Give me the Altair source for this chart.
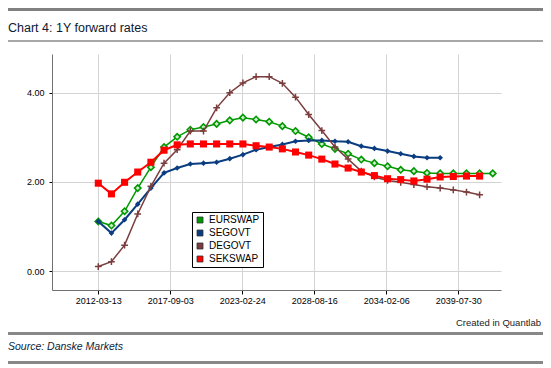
import altair as alt
import pandas as pd

# ---------------- data ----------------
series_names = ["EURSWAP", "SEGOVT", "DEGOVT", "SEKSWAP"]
series_colors = ["#009900", "#0a3d80", "#7b3d3d", "#ff0000"]
start_year = 2012

eurswap = [1.11, 1.02, 1.34, 1.86, 2.33, 2.78, 3.01, 3.17, 3.23, 3.30, 3.38, 3.44,
           3.40, 3.35, 3.25, 3.14, 3.00, 2.85, 2.74, 2.63, 2.50, 2.42, 2.35, 2.27,
           2.24, 2.20, 2.19, 2.19, 2.19, 2.19, 2.19]
segovt = [1.11, 0.85, 1.15, 1.50, 1.86, 2.20, 2.31, 2.40, 2.42, 2.44, 2.52, 2.61,
          2.72, 2.78, 2.84, 2.91, 2.93, 2.93, 2.91, 2.90, 2.80, 2.75, 2.69, 2.63,
          2.57, 2.54, 2.54]
degovt = [0.10, 0.21, 0.58, 1.28, 1.90, 2.42, 2.72, 3.14, 3.14, 3.66, 4.00, 4.22,
          4.36, 4.36, 4.21, 3.90, 3.51, 3.15, 2.78, 2.51, 2.24, 2.11, 2.03, 1.99,
          1.94, 1.89, 1.86, 1.82, 1.77, 1.71]
sekswap = [1.97, 1.73, 1.99, 2.22, 2.44, 2.71, 2.83, 2.85, 2.85, 2.85, 2.85, 2.85,
           2.81, 2.78, 2.74, 2.67, 2.60, 2.51, 2.40, 2.31, 2.22, 2.14, 2.07, 2.05,
           2.02, 2.06, 2.11, 2.12, 2.13, 2.13]

x_tick_labels = ["2012-03-13", "2017-09-03", "2023-02-24", "2028-08-16",
                 "2034-02-06", "2039-07-30"]
x_domain = ["2008-09-04", "2042-10-28"]
y_tick_values = [0, 2, 4]
y_domain = [-0.426, 4.868]

title_text = "Chart 4: 1Y forward rates"
source_text = "Source: Danske Markets"
credit_text = "Created in Quantlab"

rows = []
for name, vals in zip(series_names, [eurswap, segovt, degovt, sekswap]):
    for i, v in enumerate(vals):
        rows.append({"series": name, "date": f"{start_year + i}-03-13", "value": v})
df = pd.DataFrame(rows)


def dt(s):
    y, m, d = (int(p) for p in s.split("-"))
    return alt.DateTime(year=y, month=m, date=d, utc=True)


FONT = "Liberation Sans"
W, H = 449, 236
color_of = dict(zip(series_names, series_colors))

color_scale = alt.Scale(domain=series_names, range=series_colors)
x_enc = alt.X(
    "date:T",
    scale=alt.Scale(type="utc", domain=[dt(s) for s in x_domain]),
    axis=alt.Axis(values=[dt(s) for s in x_tick_labels], format="%Y-%m-%d",
                  title=None, labelFont=FONT, labelFontSize=9, labelColor="#000",
                  domainColor="#707070", tickColor="#000", tickSize=4,
                  gridColor="#d4d4d4", labelPadding=2, labelFlush=False),
)
y_enc = alt.Y(
    "value:Q",
    scale=alt.Scale(domain=y_domain, nice=False, zero=False),
    axis=alt.Axis(values=y_tick_values, format=".2f", title=None, labelFont=FONT,
                  labelFontSize=9, labelColor="#000", domainColor="#707070",
                  tickColor="#000", tickSize=3, gridColor="#d4d4d4",
                  labelPadding=5),
)

line_widths = {"EURSWAP": 1.5, "SEGOVT": 2, "DEGOVT": 1.5, "SEKSWAP": 2}

layers = []
for name in series_names:
    c = color_of[name]
    base = alt.Chart(df).transform_filter(alt.datum.series == name)
    layers.append(
        base.mark_line(strokeWidth=line_widths[name], color=c).encode(x=x_enc, y=y_enc)
    )
    if name == "EURSWAP":
        pts = base.mark_point(shape="diamond", filled=False, fill="#cfeccf",
                              stroke=c, size=40, strokeWidth=1.6, opacity=1)
        layers.append(pts.encode(x=x_enc, y=y_enc))
    elif name == "SEGOVT":
        pts = base.mark_point(shape="diamond", filled=True, color=c, size=32,
                              opacity=1)
        layers.append(pts.encode(x=x_enc, y=y_enc))
    elif name == "DEGOVT":
        pts = base.mark_point(shape="M-1,0L1,0M0,-1L0,1", filled=False, stroke=c,
                              size=45, strokeWidth=1.5, opacity=1)
        layers.append(pts.encode(x=x_enc, y=y_enc))
    else:
        pts = base.mark_point(shape="square", filled=True, size=50, opacity=1)
        leg = alt.Legend(title=None, orient="none", legendX=140, legendY=158,
                         symbolType="square", symbolSize=36,
                         symbolStrokeColor="#333", symbolStrokeWidth=0.8,
                         labelFont=FONT, labelFontSize=10, labelColor="#000",
                         strokeColor="#000", fillColor="#ffffff", padding=3,
                         rowPadding=3, labelOffset=4)
        layers.append(pts.encode(
            x=x_enc, y=y_enc,
            color=alt.Color("series:N", scale=color_scale, legend=leg)))

one = pd.DataFrame({"t": [0]})


def hrule(y, width, color):
    return alt.Chart(one).mark_rule(color=color, strokeWidth=width).encode(
        x=alt.value(-44), x2=alt.value(491), y=alt.value(y))


def label(text, x, y, size, align="left", italic=False, color="#111"):
    kw = dict(align=align, baseline="alphabetic", font=FONT, fontSize=size,
              color=color)
    if italic:
        kw["fontStyle"] = "italic"
    return alt.Chart(pd.DataFrame({"t": [text]})).mark_text(**kw).encode(
        x=alt.value(x), y=alt.value(y), text="t:N")


decor = [
    hrule(-44.5, 3, "#808080"),
    hrule(-13, 1.5, "#8a8a8a"),
    hrule(279.5, 3, "#888888"),
    hrule(308.5, 3, "#888888"),
    label(title_text, -44, -22.5, 12.5, color="#0d1a33"),
    label(credit_text, 489, 272, 9.5, align="right", color="#222"),
    label(source_text, -44, 296, 10.5, italic=True, color="#0b1e3c"),
]

chart = alt.layer(*layers, *decor).properties(
    width=W, height=H,
    padding={"left": 44, "top": 46, "right": 42, "bottom": 74},
    autosize=alt.AutoSizeParams(type="none"),
).configure_view(strokeWidth=0).configure_axis(grid=True)

chart.save("out.html", embed_options={"renderer": "svg", "actions": False})
